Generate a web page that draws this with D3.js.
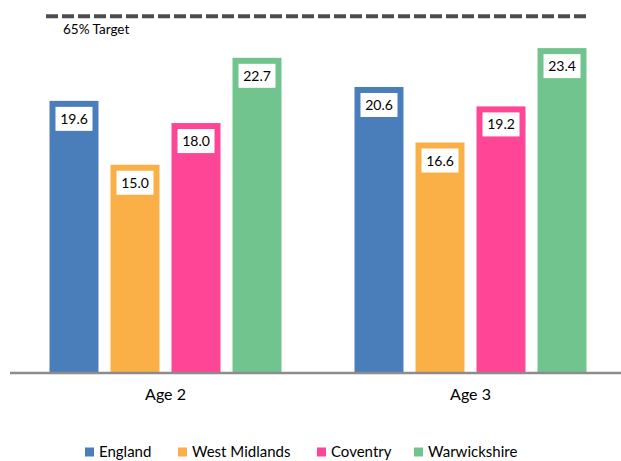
<!DOCTYPE html>
<html>
<head>
<meta charset="utf-8">
<script src="https://cdn.jsdelivr.net/npm/d3@7"></script>
<style>
  html, body { margin: 0; padding: 0; background: #fff; }
  svg { display: block; font-family: Lato, "Liberation Sans", sans-serif; }
</style>
</head>
<body>
<svg id="chart" width="621" height="461"></svg>
<script>
const categories = ["Age 2", "Age 3"];
const seriesNames = ["England", "West Midlands", "Coventry", "Warwickshire"];
const england = [19.6, 20.6];
const westMidlands = [15.0, 16.6];
const coventry = [18.0, 19.2];
const warwickshire = [22.7, 23.4];
const targetValue = 25.7;
const targetLabel = "65% Target";
const colors = ["#4a7ebb", "#fbb047", "#ff4596", "#72c48f"];

const seriesValues = [england, westMidlands, coventry, warwickshire];
const data = categories.map((c, i) => ({
  category: c,
  values: seriesNames.map((s, j) => ({ series: s, value: seriesValues[j][i], color: colors[j] }))
}));

const svg = d3.select("#chart");
const baseY = 373;

const x0 = d3.scaleBand().domain(categories).range([13, 623]);
const x1 = d3.scaleBand().domain(seriesNames).range([-116, 116]).paddingInner(0.197);
const y = d3.scaleLinear().domain([0, 26]).range([baseY, 12]);

// bars
const groups = svg.selectAll("g.grp").data(data).enter().append("g")
  .attr("class", "grp")
  .attr("transform", d => `translate(${x0(d.category) + x0.bandwidth() / 2},0)`);

groups.selectAll("rect.bar").data(d => d.values).enter().append("rect")
  .attr("class", "bar")
  .attr("x", d => x1(d.series))
  .attr("width", x1.bandwidth())
  .attr("y", d => y(d.value))
  .attr("height", d => y(0) - y(d.value))
  .attr("fill", d => d.color);

// data labels
const lab = groups.selectAll("g.lab").data(d => d.values).enter().append("g")
  .attr("class", "lab")
  .attr("transform", d => `translate(${x1(d.series) + x1.bandwidth() / 2},${y(d.value) + 18})`);
lab.append("rect")
  .attr("x", -18.5).attr("y", -12).attr("width", 37).attr("height", 24)
  .attr("fill", "#fff");
lab.append("text")
  .attr("text-anchor", "middle")
  .attr("dy", "0.36em")
  .attr("font-size", 14)
  .attr("fill", "#000")
  .text(d => d.value.toFixed(1));

// x axis
const xAxis = d3.axisBottom(x0).tickSize(0).tickPadding(16);
const ax = svg.append("g").attr("transform", `translate(0,${baseY})`).call(xAxis);
ax.select(".domain").attr("stroke", "#8c8c8c").attr("stroke-width", 2.5).attr("d", "M10,0H621");
ax.selectAll("text").attr("font-size", 16).attr("fill", "#000").attr("font-family", "Lato, sans-serif");

// target line
svg.append("line")
  .attr("x1", 46).attr("x2", 590)
  .attr("y1", y(targetValue)).attr("y2", y(targetValue))
  .attr("stroke", "#4d4d4d").attr("stroke-width", 4)
  .attr("stroke-dasharray", "12,4");
svg.append("text")
  .attr("x", 63).attr("y", y(targetValue) + 18)
  .attr("font-size", 13.5).attr("fill", "#000")
  .text(targetLabel);

// legend
const legendX = [85, 178, 317, 414];
const leg = svg.selectAll("g.leg").data(seriesNames).enter().append("g")
  .attr("class", "leg")
  .attr("transform", (d, i) => `translate(${legendX[i]},452)`);
leg.append("rect").attr("x", 0).attr("y", -4.5).attr("width", 9).attr("height", 9)
  .attr("fill", (d, i) => colors[i]);
leg.append("text").attr("x", 14).attr("dy", "0.36em").attr("font-size", 15).attr("fill", "#000")
  .text(d => d);
</script>
</body>
</html>
